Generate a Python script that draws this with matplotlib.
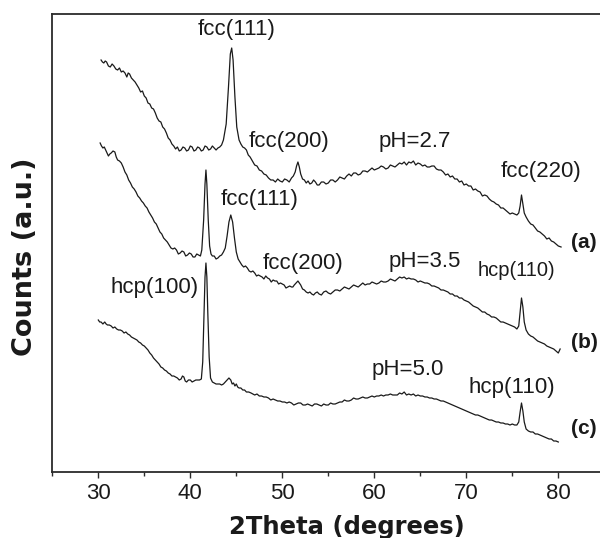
import matplotlib
matplotlib.use("Agg")
import matplotlib.pyplot as plt
from matplotlib.ticker import MultipleLocator

# ---- data: (2theta in degrees, intensity in arbitrary units) ----
curve_a = [
    (30.3, 412), (30.45, 410), (30.6, 409), (30.75, 411), (30.9, 410), (31.1, 406), (31.3, 405),
    (31.5, 408), (31.7, 406), (31.9, 403), (32.1, 402), (32.3, 404), (32.5, 400), (32.7, 401),
    (32.9, 399), (33.1, 395), (33.25, 399), (33.4, 398), (33.6, 394), (33.8, 392), (34.0, 390),
    (34.2, 387), (34.4, 384), (34.6, 380), (34.8, 381), (35.0, 376), (35.2, 374), (35.4, 369),
    (35.6, 368), (35.8, 364), (36.0, 363), (36.2, 359), (36.4, 354), (36.6, 351), (36.8, 350),
    (37.0, 345), (37.2, 343), (37.4, 339), (37.6, 334), (37.8, 332), (38.0, 328), (38.2, 326),
    (38.4, 323), (38.6, 325), (38.8, 321), (39.0, 322), (39.2, 325), (39.4, 324), (39.6, 321),
    (39.8, 322), (40.0, 326), (40.2, 325), (40.4, 321), (40.6, 322), (40.8, 325), (41.0, 324),
    (41.2, 321), (41.4, 322), (41.6, 326), (41.8, 325), (42.0, 322), (42.2, 323), (42.4, 326),
    (42.6, 324), (42.8, 322), (43.0, 324), (43.2, 325), (43.4, 327), (43.6, 332), (43.9, 348),
    (44.15, 385), (44.35, 418), (44.5, 424), (44.65, 412), (44.85, 375), (45.05, 345), (45.3, 332),
    (45.5, 328), (45.7, 325), (45.9, 324), (46.1, 322), (46.3, 317), (46.5, 315), (46.75, 311),
    (47.0, 307), (47.25, 306), (47.5, 302), (47.75, 301), (48.0, 298), (48.25, 297), (48.5, 294),
    (48.75, 292), (49.0, 292), (49.25, 290), (49.5, 293), (49.75, 291), (50.0, 290), (50.25, 293),
    (50.5, 292), (50.75, 290), (51.0, 294), (51.2, 296), (51.4, 300), (51.55, 306), (51.7, 310),
    (51.85, 305), (52.0, 298), (52.2, 293), (52.4, 292), (52.6, 289), (52.8, 291), (53.0, 288),
    (53.2, 289), (53.4, 292), (53.6, 290), (53.8, 287), (54.0, 287), (54.25, 290), (54.5, 290),
    (54.75, 288), (55.0, 289), (55.25, 292), (55.5, 292), (55.75, 290), (56.0, 292), (56.25, 295),
    (56.5, 294), (56.75, 293), (57.0, 296), (57.25, 298), (57.5, 296), (57.75, 299), (58.0, 299),
    (58.25, 297), (58.5, 298), (58.75, 301), (59.0, 301), (59.25, 300), (59.5, 302), (59.75, 304),
    (60.0, 302), (60.25, 303), (60.5, 304), (60.75, 306), (61.0, 305), (61.25, 303), (61.5, 304),
    (61.75, 307), (62.0, 306), (62.25, 305), (62.5, 307), (62.75, 309), (63.0, 308), (63.25, 310),
    (63.5, 307), (63.75, 310), (64.0, 309), (64.25, 311), (64.5, 307), (64.75, 309), (65.0, 308),
    (65.25, 306), (65.5, 307), (65.75, 305), (66.0, 305), (66.25, 306), (66.5, 306), (66.75, 303),
    (67.0, 302), (67.25, 302), (67.5, 300), (67.75, 297), (68.0, 298), (68.25, 295), (68.5, 296),
    (68.75, 293), (69.0, 293), (69.25, 290), (69.5, 291), (69.75, 287), (70.0, 288), (70.25, 286),
    (70.5, 286), (70.75, 282), (71.0, 283), (71.25, 281), (71.5, 280), (71.75, 276), (72.0, 277),
    (72.25, 276), (72.5, 273), (72.75, 271), (73.0, 270), (73.25, 268), (73.5, 267), (73.75, 264),
    (74.0, 264), (74.25, 262), (74.5, 260), (74.75, 258), (75.0, 259), (75.25, 258), (75.5, 257),
    (75.7, 259), (75.85, 266), (76.0, 277), (76.15, 268), (76.3, 259), (76.5, 255), (76.75, 251),
    (77.0, 248), (77.25, 247), (77.5, 244), (77.75, 241), (78.0, 240), (78.25, 238), (78.5, 236),
    (78.75, 233), (79.0, 234), (79.25, 231), (79.5, 230), (79.75, 228), (80.0, 226), (80.3, 225),
]

curve_b = [
    (30.2, 329), (30.35, 326), (30.5, 324), (30.65, 325), (30.8, 322), (30.95, 319), (31.1, 316),
    (31.25, 318), (31.4, 319), (31.6, 321), (31.8, 320), (31.95, 315), (32.1, 312), (32.3, 311),
    (32.5, 309), (32.7, 305), (32.9, 300), (33.1, 297), (33.3, 292), (33.5, 289), (33.7, 285),
    (33.9, 283), (34.1, 280), (34.3, 276), (34.5, 274), (34.7, 271), (34.9, 269), (35.1, 266),
    (35.3, 264), (35.5, 260), (35.7, 257), (35.9, 254), (36.1, 250), (36.3, 248), (36.5, 244),
    (36.7, 240), (36.9, 238), (37.1, 234), (37.3, 232), (37.5, 230), (37.7, 227), (37.9, 224),
    (38.1, 223), (38.3, 224), (38.5, 222), (38.7, 218), (38.9, 219), (39.1, 221), (39.3, 220),
    (39.5, 216), (39.7, 217), (39.9, 219), (40.1, 218), (40.3, 215), (40.5, 215), (40.7, 218),
    (40.9, 217), (41.1, 216), (41.25, 222), (41.45, 252), (41.6, 288), (41.7, 302), (41.8, 288),
    (41.95, 252), (42.1, 226), (42.25, 218), (42.4, 216), (42.6, 216), (42.8, 213), (43.0, 214),
    (43.2, 216), (43.4, 217), (43.6, 220), (43.8, 224), (44.0, 236), (44.2, 250), (44.4, 257),
    (44.6, 250), (44.8, 234), (45.0, 220), (45.2, 213), (45.4, 210), (45.6, 207), (45.8, 205),
    (46.0, 206), (46.2, 204), (46.4, 201), (46.6, 200), (46.8, 201), (47.0, 199), (47.2, 196),
    (47.4, 197), (47.6, 196), (47.8, 195), (48.0, 193), (48.2, 196), (48.4, 194), (48.6, 193),
    (48.8, 190), (49.0, 192), (49.2, 191), (49.4, 191), (49.6, 188), (49.8, 189), (50.0, 188),
    (50.2, 187), (50.4, 184), (50.6, 185), (50.8, 186), (51.0, 185), (51.15, 185), (51.3, 187),
    (51.5, 189), (51.7, 191), (51.85, 189), (52.0, 187), (52.2, 183), (52.4, 182), (52.6, 180),
    (52.8, 179), (53.0, 180), (53.2, 178), (53.4, 177), (53.6, 179), (53.8, 180), (54.0, 178),
    (54.25, 177), (54.5, 180), (54.75, 181), (55.0, 179), (55.25, 178), (55.5, 180), (55.75, 182),
    (56.0, 182), (56.25, 181), (56.5, 183), (56.75, 185), (57.0, 184), (57.25, 183), (57.5, 185),
    (57.75, 187), (58.0, 186), (58.25, 185), (58.5, 187), (58.75, 189), (59.0, 187), (59.25, 188),
    (59.5, 188), (59.75, 190), (60.0, 189), (60.25, 188), (60.5, 189), (60.75, 191), (61.0, 190),
    (61.25, 190), (61.5, 191), (61.75, 193), (62.0, 192), (62.25, 191), (62.5, 193), (62.75, 195),
    (63.0, 194), (63.25, 195), (63.5, 193), (63.75, 194), (64.0, 193), (64.25, 193), (64.5, 192),
    (64.75, 190), (65.0, 191), (65.25, 190), (65.5, 189), (65.75, 189), (66.0, 188), (66.25, 186),
    (66.5, 186), (66.75, 185), (67.0, 184), (67.25, 182), (67.5, 182), (67.75, 181), (68.0, 180),
    (68.25, 178), (68.5, 178), (68.75, 176), (69.0, 176), (69.25, 174), (69.5, 174), (69.75, 172),
    (70.0, 171), (70.25, 170), (70.5, 168), (70.75, 166), (71.0, 165), (71.25, 164), (71.5, 162),
    (71.75, 160), (72.0, 160), (72.25, 158), (72.5, 157), (72.75, 155), (73.0, 155), (73.25, 154),
    (73.5, 152), (73.75, 150), (74.0, 150), (74.25, 149), (74.5, 148), (74.75, 147), (75.0, 146),
    (75.25, 145), (75.5, 143), (75.7, 146), (75.85, 160), (76.0, 174), (76.15, 165), (76.3, 150),
    (76.5, 142), (76.75, 138), (77.0, 136), (77.25, 135), (77.5, 133), (77.75, 131), (78.0, 130),
    (78.25, 129), (78.5, 128), (78.75, 126), (79.0, 125), (79.25, 124), (79.5, 123), (79.75, 121),
    (80.0, 119), (80.2, 123),
]

curve_c = [
    (30.0, 152), (30.15, 150), (30.3, 150), (30.5, 148), (30.7, 150), (30.85, 148), (31.0, 147),
    (31.2, 147), (31.4, 146), (31.6, 144), (31.8, 145), (32.0, 143), (32.2, 142), (32.4, 142),
    (32.6, 141), (32.8, 139), (33.0, 140), (33.2, 138), (33.4, 137), (33.6, 135), (33.8, 134),
    (34.0, 133), (34.2, 132), (34.4, 130), (34.6, 129), (34.8, 127), (35.0, 126), (35.2, 124),
    (35.4, 122), (35.6, 119), (35.8, 117), (36.0, 114), (36.2, 112), (36.4, 110), (36.6, 108),
    (36.8, 105), (37.0, 104), (37.2, 102), (37.4, 101), (37.6, 99), (37.8, 98), (38.0, 96),
    (38.2, 96), (38.4, 95), (38.6, 94), (38.8, 92), (39.0, 93), (39.15, 96), (39.3, 95),
    (39.45, 91), (39.6, 90), (39.8, 92), (40.0, 92), (40.2, 90), (40.4, 91), (40.6, 92),
    (40.8, 92), (41.0, 92), (41.2, 93), (41.35, 110), (41.5, 160), (41.6, 195), (41.7, 209),
    (41.8, 195), (41.9, 160), (42.05, 115), (42.2, 94), (42.4, 90), (42.6, 89), (42.8, 88),
    (43.0, 88), (43.2, 88), (43.4, 87), (43.6, 88), (43.8, 90), (44.0, 92), (44.2, 94),
    (44.4, 92), (44.55, 88), (44.7, 89), (44.85, 86), (45.0, 88), (45.15, 85), (45.3, 84),
    (45.5, 84), (45.7, 82), (45.9, 82), (46.1, 80), (46.35, 80), (46.6, 79), (46.8, 78),
    (47.0, 77), (47.25, 78), (47.5, 76), (47.75, 76), (48.0, 75), (48.25, 75), (48.5, 74),
    (48.75, 72), (49.0, 73), (49.25, 72), (49.5, 71), (49.75, 71), (50.0, 70), (50.25, 70),
    (50.5, 69), (50.75, 70), (51.0, 69), (51.25, 67), (51.5, 68), (51.75, 69), (52.0, 69),
    (52.25, 67), (52.5, 67), (52.75, 68), (53.0, 67), (53.25, 66), (53.5, 68), (53.75, 68),
    (54.0, 67), (54.25, 66), (54.5, 68), (54.75, 67), (55.0, 67), (55.25, 69), (55.5, 68),
    (55.75, 68), (56.0, 69), (56.25, 70), (56.5, 70), (56.75, 72), (57.0, 71), (57.25, 71),
    (57.5, 72), (57.75, 74), (58.0, 73), (58.25, 73), (58.5, 74), (58.75, 75), (59.0, 74),
    (59.25, 74), (59.5, 75), (59.75, 76), (60.0, 75), (60.25, 76), (60.5, 76), (60.75, 77),
    (61.0, 76), (61.25, 77), (61.5, 77), (61.75, 78), (62.0, 77), (62.25, 77), (62.5, 77),
    (62.75, 79), (63.0, 78), (63.25, 80), (63.5, 77), (63.75, 78), (64.0, 77), (64.25, 78),
    (64.5, 76), (64.75, 77), (65.0, 76), (65.25, 76), (65.5, 75), (65.75, 75), (66.0, 74),
    (66.25, 74), (66.5, 73), (66.75, 73), (67.0, 72), (67.25, 71), (67.5, 71), (67.75, 70),
    (68.0, 69), (68.25, 68), (68.5, 67), (68.75, 66), (69.0, 65), (69.25, 64), (69.5, 63),
    (69.75, 62), (70.0, 61), (70.25, 60), (70.5, 59), (70.75, 58), (71.0, 57), (71.25, 57),
    (71.5, 56), (71.75, 55), (72.0, 54), (72.25, 53), (72.5, 52), (72.75, 52), (73.0, 51),
    (73.25, 50), (73.5, 50), (73.75, 49), (74.0, 49), (74.25, 48), (74.5, 48), (74.75, 47),
    (75.0, 48), (75.25, 47), (75.5, 47), (75.7, 50), (75.85, 60), (76.0, 69), (76.15, 61),
    (76.3, 50), (76.5, 43), (76.75, 41), (77.0, 40), (77.25, 40), (77.5, 38), (77.75, 38),
    (78.0, 37), (78.25, 36), (78.5, 35), (78.75, 34), (79.0, 33), (79.25, 33), (79.5, 31),
    (79.75, 31), (80.0, 30),
]

x_ticks = [30, 40, 50, 60, 70, 80]

# annotations: (text, 2theta, counts, fontsize, bold)
annotations = [
    ("fcc(111)", 45.0, 442, 16, False),
    ("fcc(200)", 50.7, 330, 16, False),
    ("pH=2.7", 64.4, 331, 16, False),
    ("fcc(220)", 78.1, 300, 16, False),
    ("(a)", 82.8, 230, 15, True),
    ("fcc(111)", 47.5, 272, 16, False),
    ("fcc(200)", 52.3, 208, 16, False),
    ("pH=3.5", 65.5, 210, 16, False),
    ("hcp(110)", 75.5, 202, 14.5, False),
    ("(b)", 82.8, 129, 15, True),
    ("hcp(100)", 36.1, 185, 16, False),
    ("pH=5.0", 63.6, 102, 16, False),
    ("hcp(110)", 75.0, 85, 16, False),
    ("(c)", 82.8, 44, 15, True),
]

W, H = 600, 538
fig = plt.figure(figsize=(W / 100, H / 100), dpi=100)
left_px, right_px, top_px, bot_px = 52.3, 604.3, 14, 472
ax = fig.add_axes([left_px / W, 1 - bot_px / H, (right_px - left_px) / W, (bot_px - top_px) / H])

line_col = "#1a1a1a"
for curve in (curve_a, curve_b, curve_c):
    theta = [p[0] for p in curve]
    counts = [p[1] for p in curve]
    ax.plot(theta, counts, color=line_col, lw=0.9)

ax.set_xlim(25, 85)
ax.set_ylim(0, 458)

spine_col = "#2b2b2b"
ax.spines["right"].set_visible(False)
for s in ["left", "top", "bottom"]:
    ax.spines[s].set_color(spine_col)
    ax.spines[s].set_linewidth(1.3)

ax.set_yticks([])
ax.set_xticks(x_ticks)
ax.xaxis.set_minor_locator(MultipleLocator(5))
ax.tick_params(axis="x", which="major", direction="out", length=4.5, width=1.0,
               color=spine_col, pad=3.5, labelsize=16)
ax.tick_params(axis="x", which="minor", direction="out", length=3.0, width=1.0, color=spine_col)
for lbl in ax.get_xticklabels():
    lbl.set_family("Liberation Sans")
    lbl.set_color("#1a1a1a")

for txt, x, y, fs, bold in annotations:
    ax.text(x, y, txt, ha="center", va="center", fontsize=fs,
            fontweight="bold" if bold else "normal",
            family="Liberation Sans", color="#1a1a1a", clip_on=False)

fig.text(347 / W, 1 - 527 / H, "2Theta (degrees)", ha="center", va="center",
         fontsize=17.5, fontweight="bold", family="DejaVu Sans", color="#1a1a1a")
fig.text(25 / W, 1 - 257 / H, "Counts (a.u.)", ha="center", va="center", rotation=90,
         fontsize=19.5, fontweight="bold", family="DejaVu Sans", color="#1a1a1a")

fig.savefig("out.png", dpi=100)
